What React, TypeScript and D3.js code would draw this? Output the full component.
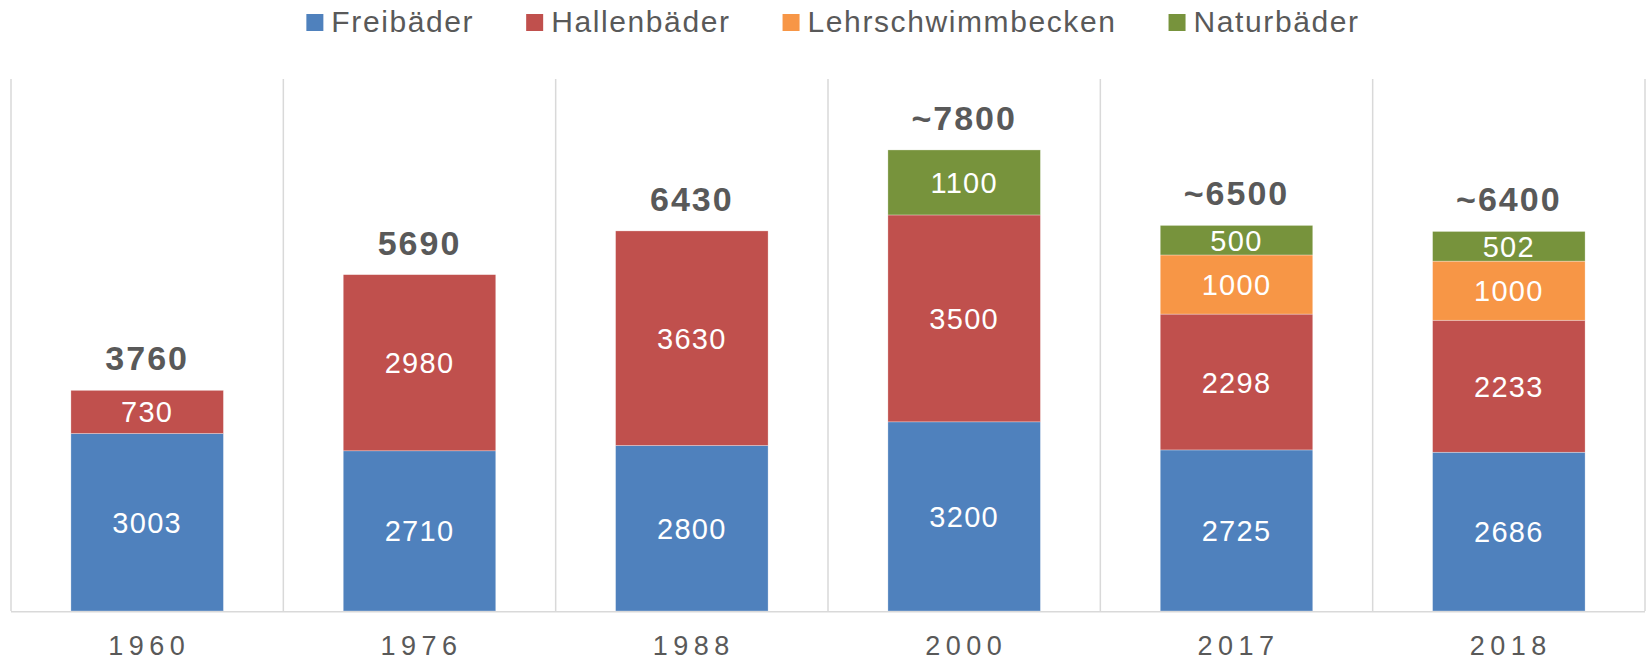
import React, { useEffect, useRef } from 'react';
import * as d3 from 'd3';

// Daten
const years = ['1960', '1976', '1988', '2000', '2017', '2018'];
const seriesNames = ['Freibäder', 'Hallenbäder', 'Lehrschwimmbecken', 'Naturbäder'];
const seriesColors = ['#4F81BD', '#C0504D', '#F79646', '#77933C'];
const freibaeder = [3003, 2710, 2800, 3200, 2725, 2686];
const hallenbaeder = [730, 2980, 3630, 3500, 2298, 2233];
const lehrschwimmbecken = [0, 0, 0, 0, 1000, 1000];
const naturbaeder = [0, 0, 0, 1100, 500, 502];
const totalLabels = ['3760', '5690', '6430', '~7800', '~6500', '~6400'];

const App: React.FC = () => {
  const svgRef = useRef<SVGSVGElement>(null);

  useEffect(() => {
    const width = 1647;
    const height = 661;
    const left = 11;
    const right = 1645;
    const top = 79;
    const bottom = 611;
    const font = '"Liberation Sans", Arial, sans-serif';
    const grey = '#595959';

    const svg = d3.select(svgRef.current)
      .attr('width', width)
      .attr('height', height);
    svg.selectAll('*').remove();

    const rows = years.map((y, i) => ({
      year: y,
      [seriesNames[0]]: freibaeder[i],
      [seriesNames[1]]: hallenbaeder[i],
      [seriesNames[2]]: lehrschwimmbecken[i],
      [seriesNames[3]]: naturbaeder[i],
    }));

    const x = d3.scaleBand<string>()
      .domain(years)
      .range([left, right])
      .paddingInner(0.44)
      .paddingOuter(0.22);
    const step = x.step();

    const y = d3.scaleLinear().domain([0, 9000]).range([bottom, top]);

    const color = d3.scaleOrdinal<string, string>().domain(seriesNames).range(seriesColors);

    // Gitterlinien zwischen den Kategorien
    const bounds = d3.range(years.length + 1).map(i => left + i * step);
    svg.append('g')
      .selectAll('line')
      .data(bounds)
      .enter().append('line')
      .attr('x1', d => d)
      .attr('x2', d => d)
      .attr('y1', top)
      .attr('y2', bottom)
      .attr('stroke', '#d9d9d9')
      .attr('stroke-width', 1.5);

    // Gestapelte Balken
    const stacked = d3.stack<any>().keys(seriesNames)(rows);
    const layers = svg.append('g')
      .selectAll('g')
      .data(stacked)
      .enter().append('g')
      .attr('fill', d => color(d.key));

    layers.selectAll('rect')
      .data(d => d.filter(s => s[1] - s[0] > 0))
      .enter().append('rect')
      .attr('x', d => x(d.data.year)!)
      .attr('width', x.bandwidth())
      .attr('y', d => y(d[1]))
      .attr('height', d => y(d[0]) - y(d[1]))
      .attr('stroke', '#ffffff')
      .attr('stroke-opacity', 0.5)
      .attr('stroke-width', 0.6);

    // Werte in den Segmenten
    layers.selectAll('text')
      .data(d => d.filter(s => s[1] - s[0] > 0))
      .enter().append('text')
      .attr('x', d => x(d.data.year)! + x.bandwidth() / 2)
      .attr('y', d => (y(d[0]) + y(d[1])) / 2 + 10.5)
      .attr('text-anchor', 'middle')
      .attr('fill', '#ffffff')
      .attr('font-family', font)
      .attr('font-size', 29)
      .attr('letter-spacing', 1.3)
      .text(d => String(d[1] - d[0]));

    // Summen oberhalb
    svg.append('g')
      .selectAll('text')
      .data(years)
      .enter().append('text')
      .attr('x', d => x(d)! + x.bandwidth() / 2)
      .attr('y', (d, i) => y(freibaeder[i] + hallenbaeder[i] + lehrschwimmbecken[i] + naturbaeder[i]) - 20)
      .attr('text-anchor', 'middle')
      .attr('fill', grey)
      .attr('font-family', font)
      .attr('font-weight', 'bold')
      .attr('font-size', 34)
      .attr('letter-spacing', 2)
      .text((d, i) => totalLabels[i]);

    // x-Achse
    svg.append('line')
      .attr('x1', left)
      .attr('x2', right)
      .attr('y1', bottom + 0.75)
      .attr('y2', bottom + 0.75)
      .attr('stroke', '#d9d9d9')
      .attr('stroke-width', 1.5);

    svg.append('g')
      .selectAll('text')
      .data(years)
      .enter().append('text')
      .attr('x', d => x(d)! + x.bandwidth() / 2 + 2)
      .attr('y', 655)
      .attr('text-anchor', 'middle')
      .attr('fill', grey)
      .attr('font-family', font)
      .attr('font-size', 27)
      .attr('letter-spacing', 5.5)
      .text(d => d);

    // Legende
    const legend = svg.append('g');
    const items = legend.selectAll('g')
      .data(seriesNames)
      .enter().append('g');
    items.append('rect')
      .attr('y', 14)
      .attr('width', 17)
      .attr('height', 17)
      .attr('fill', d => color(d));
    items.append('text')
      .attr('x', 25)
      .attr('y', 32)
      .attr('fill', grey)
      .attr('font-family', font)
      .attr('font-size', 30)
      .attr('letter-spacing', 1.6)
      .text(d => d);

    const gap = 52;
    let offset = 0;
    const offsets: number[] = [];
    items.each(function () {
      const t = d3.select(this).select('text').node() as SVGTextElement;
      offsets.push(offset);
      offset += 25 + t.getComputedTextLength() + gap;
    });
    const total = offset - gap;
    const start = (left + right) / 2 - total / 2 + 5;
    items.attr('transform', (d, i) => `translate(${start + offsets[i]},0)`);
  }, []);

  return (
    <svg ref={svgRef} style={{ position: 'absolute', left: 0, top: 0, background: '#ffffff' }}></svg>
  );
};

export default App;
